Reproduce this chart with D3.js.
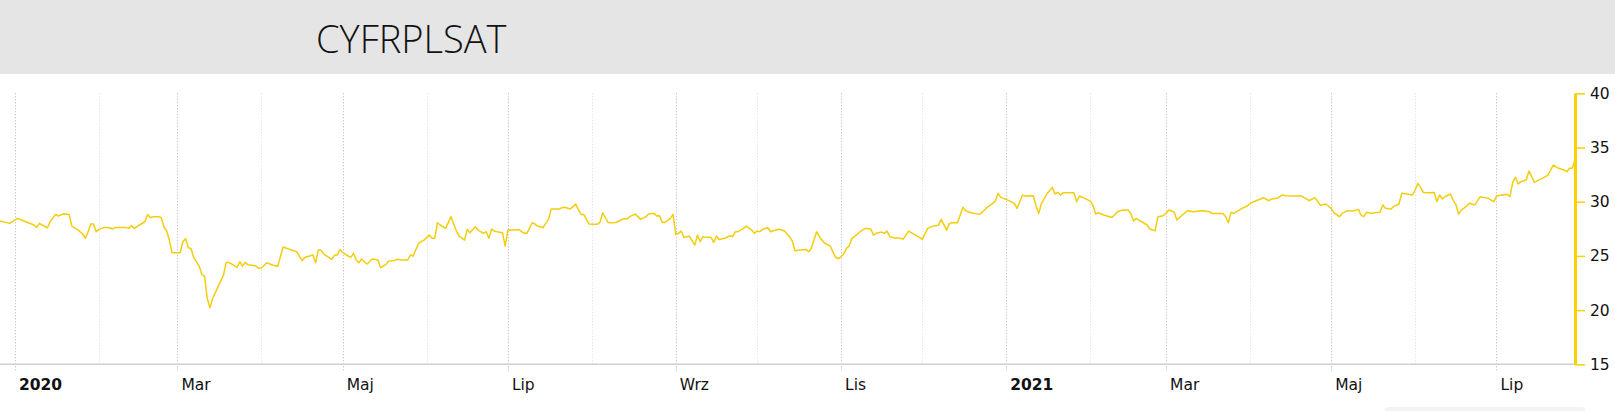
<!DOCTYPE html>
<html>
<head>
<meta charset="utf-8">
<script src="https://cdn.jsdelivr.net/npm/d3@7"></script>
<style>
  body { margin: 0; background: #fff; }
  svg { display: block; }
</style>
</head>
<body>
<div id="chart"></div>
<script>
// ticker shown in the header
var ticker = "CYFRPLSAT";
// polish month abbreviations for the x axis
var monthNames = ["Sty", "Lut", "Mar", "Kwi", "Maj", "Cze", "Lip", "Sie", "Wrz", "Paź", "Lis", "Gru"];
var yTicks = [15, 20, 25, 30, 35, 40];

// closing prices
var dates2020 = [
    "2019-12-26", "2019-12-30", "2020-01-02", "2020-01-05", "2020-01-08", "2020-01-09", "2020-01-10", "2020-01-11", "2020-01-13", "2020-01-14",
    "2020-01-16", "2020-01-17", "2020-01-19", "2020-01-21", "2020-01-22", "2020-01-24", "2020-01-26", "2020-01-27", "2020-01-28", "2020-01-29",
    "2020-01-30", "2020-01-31", "2020-02-01", "2020-02-03", "2020-02-05", "2020-02-06", "2020-02-07", "2020-02-11", "2020-02-12", "2020-02-13",
    "2020-02-14", "2020-02-16", "2020-02-18", "2020-02-19", "2020-02-20", "2020-02-21", "2020-02-23", "2020-02-24", "2020-02-25", "2020-02-26",
    "2020-02-27", "2020-02-28", "2020-02-29", "2020-03-02", "2020-03-03", "2020-03-04", "2020-03-05", "2020-03-06", "2020-03-07", "2020-03-09",
    "2020-03-10", "2020-03-11", "2020-03-12", "2020-03-13", "2020-03-14", "2020-03-16", "2020-03-18", "2020-03-19", "2020-03-20", "2020-03-23",
    "2020-03-24", "2020-03-25", "2020-03-26", "2020-03-27", "2020-03-28", "2020-03-30", "2020-03-31", "2020-04-01", "2020-04-03", "2020-04-05",
    "2020-04-07", "2020-04-09", "2020-04-11", "2020-04-14", "2020-04-16", "2020-04-17", "2020-04-20", "2020-04-21", "2020-04-22", "2020-04-23",
    "2020-04-24", "2020-04-27", "2020-04-28", "2020-04-29", "2020-04-30", "2020-05-01", "2020-05-03", "2020-05-04", "2020-05-05", "2020-05-06",
    "2020-05-07", "2020-05-08", "2020-05-09", "2020-05-10", "2020-05-12", "2020-05-13", "2020-05-14", "2020-05-15", "2020-05-17", "2020-05-18",
    "2020-05-20", "2020-05-21", "2020-05-23", "2020-05-25", "2020-05-26", "2020-05-27", "2020-05-29", "2020-05-30", "2020-05-31", "2020-06-02",
    "2020-06-03", "2020-06-04", "2020-06-05", "2020-06-06", "2020-06-08", "2020-06-10", "2020-06-12", "2020-06-13", "2020-06-15", "2020-06-16",
    "2020-06-17", "2020-06-19", "2020-06-20", "2020-06-22", "2020-06-23", "2020-06-24", "2020-06-25", "2020-06-26", "2020-06-27", "2020-06-29",
    "2020-06-30", "2020-07-01", "2020-07-04", "2020-07-05", "2020-07-07", "2020-07-08", "2020-07-10", "2020-07-11", "2020-07-12", "2020-07-14",
    "2020-07-15", "2020-07-16", "2020-07-17", "2020-07-18", "2020-07-20", "2020-07-21", "2020-07-22", "2020-07-24", "2020-07-25", "2020-07-26",
    "2020-07-28", "2020-07-29", "2020-07-31", "2020-08-02", "2020-08-03", "2020-08-04", "2020-08-05", "2020-08-07", "2020-08-08", "2020-08-10",
    "2020-08-11", "2020-08-13", "2020-08-14", "2020-08-15", "2020-08-17", "2020-08-18", "2020-08-19", "2020-08-21", "2020-08-22", "2020-08-24",
    "2020-08-25", "2020-08-26", "2020-08-27", "2020-08-28", "2020-08-30", "2020-08-31", "2020-09-01", "2020-09-02", "2020-09-03", "2020-09-04",
    "2020-09-05", "2020-09-06", "2020-09-08", "2020-09-09", "2020-09-10", "2020-09-11", "2020-09-12", "2020-09-14", "2020-09-15", "2020-09-16",
    "2020-09-17", "2020-09-19", "2020-09-21", "2020-09-22", "2020-09-23", "2020-09-24", "2020-09-26", "2020-09-27", "2020-09-29", "2020-09-30",
    "2020-10-01", "2020-10-02", "2020-10-03", "2020-10-05", "2020-10-06", "2020-10-07", "2020-10-09", "2020-10-11", "2020-10-13", "2020-10-14",
    "2020-10-15", "2020-10-17", "2020-10-19", "2020-10-20", "2020-10-21", "2020-10-23", "2020-10-24", "2020-10-26", "2020-10-28", "2020-10-29",
    "2020-10-30", "2020-10-31", "2020-11-01", "2020-11-02", "2020-11-03", "2020-11-04", "2020-11-05", "2020-11-07", "2020-11-08", "2020-11-10",
    "2020-11-12", "2020-11-13", "2020-11-14", "2020-11-16", "2020-11-17", "2020-11-18", "2020-11-19", "2020-11-21", "2020-11-22", "2020-11-24",
    "2020-11-26", "2020-11-28", "2020-11-30", "2020-12-01", "2020-12-03", "2020-12-05", "2020-12-07", "2020-12-08", "2020-12-10", "2020-12-11",
    "2020-12-12", "2020-12-14", "2020-12-16", "2020-12-17", "2020-12-19", "2020-12-22", "2020-12-23", "2020-12-25", "2020-12-27", "2020-12-28",
    "2020-12-29", "2020-12-30"
];
var prices2020 = [
    28.25, 28.0, 28.46, 28.15, 27.85, 27.63, 28.0, 27.85, 27.6, 28.15,
    28.83, 28.68, 28.89, 28.83, 27.75, 27.45, 27.02, 26.62, 27.23, 27.94,
    27.94, 27.23, 27.45, 27.63, 27.6, 27.48, 27.63, 27.63, 27.54, 27.78,
    27.54, 27.85, 28.15, 28.83, 28.52, 28.62, 28.62, 28.55, 27.69, 27.32,
    26.46, 25.29, 25.29, 25.29, 26.31, 26.59, 25.76, 25.69, 24.86, 24.06,
    23.3, 23.14, 21.08, 20.22, 21.08, 22.16, 23.23, 24.4, 24.4, 23.94,
    24.46, 24.06, 24.4, 24.19, 24.16, 24.06, 23.85, 23.88, 24.37, 24.16,
    24.03, 25.82, 25.63, 25.39, 24.56, 24.86, 25.08, 24.37, 25.54, 25.54,
    25.17, 24.68, 25.08, 25.08, 25.6, 25.32, 24.99, 24.86, 25.23, 24.62,
    24.37, 24.71, 24.46, 24.25, 24.71, 24.68, 24.62, 23.91, 24.22, 24.53,
    24.56, 24.68, 24.62, 24.62, 25.08, 24.99, 26.15, 26.31, 26.46, 26.92,
    26.62, 26.62, 28.06, 27.85, 27.54, 28.62, 27.29, 26.83, 26.46, 27.45,
    27.14, 27.69, 27.38, 27.08, 27.23, 26.62, 27.48, 27.29, 27.23, 27.14,
    25.91, 27.38, 27.38, 27.44, 27.08, 27.08, 28.06, 27.94, 27.75, 27.6,
    28.0, 28.37, 29.32, 29.32, 29.32, 29.45, 29.48, 29.32, 29.54, 29.78,
    28.83, 28.83, 27.94, 27.91, 27.91, 28.09, 28.98, 28.09, 28.06, 28.09,
    28.22, 28.46, 28.4, 28.62, 28.86, 28.62, 28.37, 28.62, 28.86, 28.92,
    28.68, 28.71, 28.09, 28.09, 28.46, 28.83, 26.99, 27.08, 27.29, 26.71,
    26.77, 26.83, 26.0, 26.92, 26.31, 26.77, 26.71, 26.71, 26.25, 26.83,
    26.52, 26.62, 26.86, 26.77, 27.23, 27.23, 27.54, 27.75, 27.38, 27.08,
    27.29, 27.23, 27.45, 27.6, 27.23, 27.32, 27.45, 27.32, 26.77, 26.37,
    25.48, 25.54, 25.6, 25.39, 25.69, 27.23, 26.77, 26.15, 25.91, 25.39,
    24.86, 24.74, 24.92, 25.17, 25.69, 25.91, 26.62, 26.99, 27.23, 27.54,
    27.48, 26.92, 27.08, 27.2, 27.08, 27.29, 26.77, 26.65, 26.65, 26.56,
    27.29, 26.99, 26.71, 26.52, 27.54, 27.75, 27.82, 28.37, 27.38, 28.0,
    28.06, 28.06, 29.48, 29.17, 28.98, 28.83, 28.98, 29.48, 29.84, 30.06,
    30.77, 30.4
];
var dates2021 = [
    "2021-01-01", "2021-01-04", "2021-01-05", "2021-01-07", "2021-01-08", "2021-01-11", "2021-01-12", "2021-01-13", "2021-01-14", "2021-01-16",
    "2021-01-18", "2021-01-19", "2021-01-20", "2021-01-21", "2021-01-22", "2021-01-24", "2021-01-26", "2021-01-27", "2021-01-28", "2021-01-30",
    "2021-02-01", "2021-02-02", "2021-02-03", "2021-02-04", "2021-02-06", "2021-02-09", "2021-02-10", "2021-02-11", "2021-02-13", "2021-02-15",
    "2021-02-16", "2021-02-17", "2021-02-18", "2021-02-20", "2021-02-22", "2021-02-23", "2021-02-25", "2021-02-26", "2021-02-28", "2021-03-01",
    "2021-03-02", "2021-03-03", "2021-03-04", "2021-03-05", "2021-03-07", "2021-03-09", "2021-03-11", "2021-03-13", "2021-03-15", "2021-03-17",
    "2021-03-18", "2021-03-20", "2021-03-22", "2021-03-23", "2021-03-24", "2021-03-25", "2021-03-26", "2021-03-28", "2021-03-29", "2021-03-31",
    "2021-04-01", "2021-04-03", "2021-04-06", "2021-04-08", "2021-04-09", "2021-04-11", "2021-04-13", "2021-04-14", "2021-04-17", "2021-04-20",
    "2021-04-21", "2021-04-23", "2021-04-24", "2021-04-25", "2021-04-27", "2021-04-29", "2021-05-01", "2021-05-02", "2021-05-04", "2021-05-05",
    "2021-05-07", "2021-05-09", "2021-05-11", "2021-05-12", "2021-05-13", "2021-05-14", "2021-05-16", "2021-05-17", "2021-05-19", "2021-05-20",
    "2021-05-21", "2021-05-23", "2021-05-24", "2021-05-26", "2021-05-27", "2021-05-29", "2021-05-31", "2021-06-01", "2021-06-02", "2021-06-03",
    "2021-06-04", "2021-06-06", "2021-06-08", "2021-06-09", "2021-06-10", "2021-06-11", "2021-06-12", "2021-06-14", "2021-06-15", "2021-06-16",
    "2021-06-17", "2021-06-18", "2021-06-20", "2021-06-21", "2021-06-23", "2021-06-25", "2021-06-26", "2021-06-28", "2021-06-30", "2021-07-01",
    "2021-07-03", "2021-07-05", "2021-07-06", "2021-07-07", "2021-07-08", "2021-07-09", "2021-07-10", "2021-07-12", "2021-07-13", "2021-07-14",
    "2021-07-15", "2021-07-17", "2021-07-18", "2021-07-20", "2021-07-22", "2021-07-24", "2021-07-26", "2021-07-27", "2021-07-28", "2021-07-29",
    "2021-07-30"
];
var prices2021 = [
    30.21, 29.84, 29.38, 30.61, 30.52, 30.55, 29.6, 28.92, 29.84, 30.71,
    31.32, 30.71, 30.86, 30.61, 30.83, 30.83, 30.83, 30.0, 30.52, 30.31,
    30.06, 29.69, 28.86, 28.98, 28.77, 28.55, 28.77, 29.08, 29.23, 29.23,
    28.92, 28.22, 28.46, 28.15, 27.85, 27.48, 27.32, 28.62, 28.71, 28.92,
    29.23, 29.14, 29.05, 28.31, 28.77, 29.17, 29.08, 29.14, 29.17, 29.08,
    28.92, 28.92, 28.92, 28.62, 28.06, 29.02, 28.92, 29.23, 29.38, 29.6,
    29.84, 30.06, 30.37, 30.09, 30.25, 30.31, 30.62, 30.55, 30.52, 30.52,
    30.37, 30.09, 30.25, 30.37, 29.66, 29.79, 29.39, 28.99, 28.62, 28.92,
    29.17, 29.14, 29.29, 28.77, 28.62, 29.02, 28.92, 28.99, 29.02, 29.69,
    29.39, 29.32, 29.54, 29.79, 30.77, 30.71, 30.62, 31.08, 31.69, 31.32,
    30.86, 30.83, 30.86, 30.0, 30.62, 30.25, 30.46, 30.71, 30.15, 29.76,
    28.86, 29.23, 29.6, 29.85, 29.69, 30.46, 30.4, 30.31, 30.0, 30.52,
    30.62, 30.68, 30.46, 31.79, 32.25, 31.63, 31.85, 32.0, 32.83, 32.31,
    31.79, 32.06, 32.15, 32.46, 33.38, 33.08, 32.92, 32.77, 33.08, 33.08,
    33.84
];

//svg size
var svgWidth = 1615;
var svgHeight = 411;
var headerHeight = 74;
var plot = { left: 0, right: 1575, top: 93.3, bottom: 364.3 };

var parseDate = d3.timeParse("%Y-%m-%d");
var data = dates2020.concat(dates2021).map(function (d, i) {
    return { date: parseDate(d), price: prices2020.concat(prices2021)[i] };
});

var svg = d3.select("#chart")
    .append("svg")
    .attr("width", svgWidth)
    .attr("height", svgHeight)
    .style("font-family", "'DejaVu Sans', Verdana, sans-serif");

//header band with ticker
svg.append("rect")
    .attr("x", 0)
    .attr("y", 0)
    .attr("width", svgWidth)
    .attr("height", headerHeight)
    .attr("fill", "#e5e5e5");

svg.append("text")
    .attr("x", 316)
    .attr("y", 53)
    .attr("font-family", "'Open Sans', sans-serif")
    .attr("font-weight", 300)
    .attr("font-size", 38)
    .attr("fill", "#111")
    .text(ticker);

//scales
var xTimeScale = d3.scaleTime()
    .domain([parseDate("2019-12-26"), parseDate("2021-07-30")])
    .range([-1.3, plot.right]);

var yLinearScale = d3.scaleLinear()
    .domain([15, 40])
    .range([plot.bottom, plot.top]);

var months = d3.timeMonth.range(parseDate("2020-01-01"), parseDate("2021-07-30"));

//vertical grid, labelled months darker
var grid = svg.append("g").attr("class", "grid");
grid.selectAll("line")
    .data(months)
    .enter()
    .append("line")
    .attr("x1", d => Math.round(xTimeScale(d)) + 0.5)
    .attr("x2", d => Math.round(xTimeScale(d)) + 0.5)
    .attr("y1", plot.top)
    .attr("y2", d => d.getMonth() % 2 === 0 ? plot.bottom + 8 : plot.bottom)
    .attr("stroke", d => d.getMonth() % 2 === 0 ? "#b4b4b4" : "#dcdcdc")
    .attr("stroke-width", 1)
    .attr("stroke-dasharray", "1,2");

//baseline
svg.append("line")
    .attr("x1", plot.left)
    .attr("x2", plot.right)
    .attr("y1", plot.bottom)
    .attr("y2", plot.bottom)
    .attr("stroke", "#d0d0d0")
    .attr("stroke-width", 1.5);

//x labels every other month
var labelled = months.filter(d => d.getMonth() % 2 === 0);
svg.append("g")
    .selectAll("text")
    .data(labelled)
    .enter()
    .append("text")
    .attr("x", d => xTimeScale(d) + 4)
    .attr("y", 390)
    .attr("font-size", 15.5)
    .attr("font-weight", d => d.getMonth() === 0 ? "bold" : "normal")
    .attr("fill", "#111")
    .text(d => d.getMonth() === 0 ? d.getFullYear() : monthNames[d.getMonth()]);

//price line
svg.append("clipPath")
    .attr("id", "plot-clip")
    .append("rect")
    .attr("x", plot.left)
    .attr("y", 0)
    .attr("width", plot.right - plot.left)
    .attr("height", svgHeight);

var priceLine = d3.line()
    .x(d => xTimeScale(d.date))
    .y(d => yLinearScale(d.price));

svg.append("path")
    .datum(data)
    .attr("clip-path", "url(#plot-clip)")
    .attr("d", priceLine)
    .attr("fill", "none")
    .attr("stroke", "#f3cd0e")
    .attr("stroke-width", 1.5)
    .attr("stroke-linejoin", "round");

//right axis
var rightAxis = d3.axisRight(yLinearScale)
    .tickValues(yTicks)
    .tickSize(10)
    .tickSizeOuter(0)
    .tickPadding(5);

var yAxis = svg.append("g")
    .attr("transform", `translate(${plot.right}, 0)`)
    .call(rightAxis);

yAxis.select(".domain")
    .attr("stroke", "#fdd000")
    .attr("stroke-width", 3);
yAxis.selectAll(".tick line")
    .attr("stroke", "#fdd000")
    .attr("stroke-width", 1.5);
yAxis.selectAll(".tick text")
    .attr("font-family", "'DejaVu Sans', Verdana, sans-serif")
    .attr("font-size", 15.5)
    .attr("fill", "#111");

//faint navigator edge at the bottom
svg.append("rect")
    .attr("x", 1385)
    .attr("y", 407)
    .attr("width", 200)
    .attr("height", 10)
    .attr("rx", 4)
    .attr("fill", "#f3f3f3");
</script>
</body>
</html>
